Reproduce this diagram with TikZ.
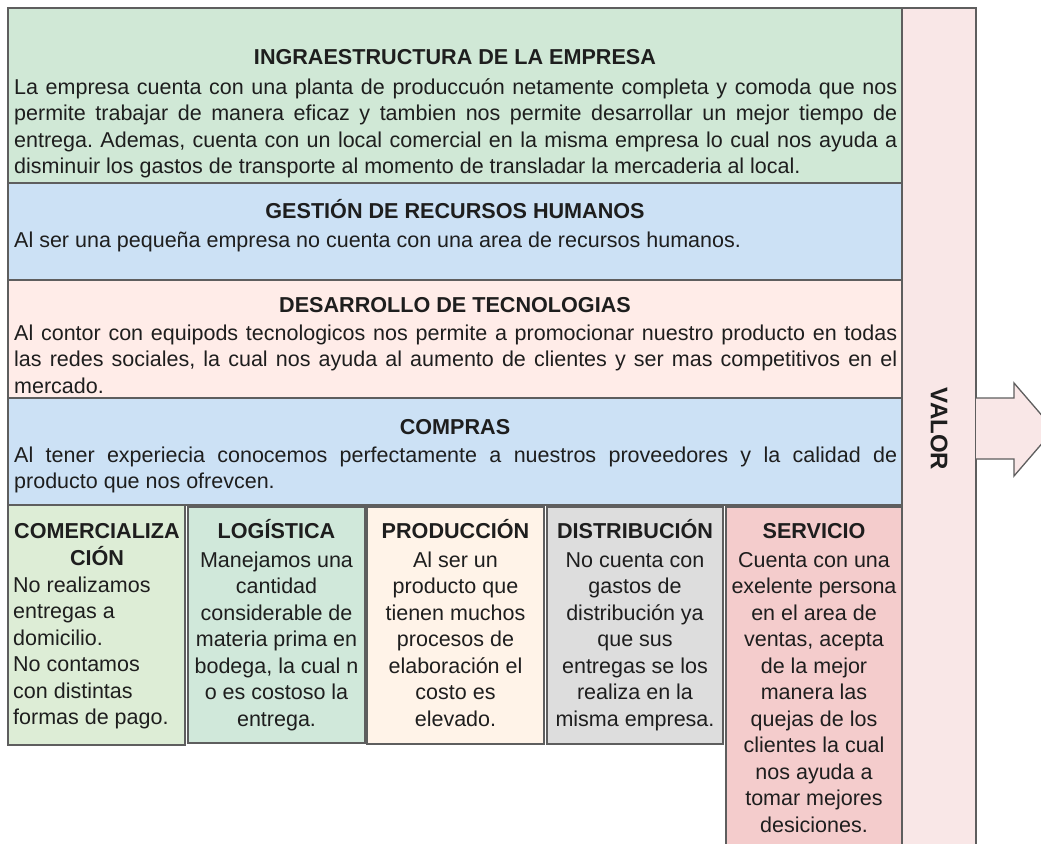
\documentclass[tikz,border=0pt]{standalone}
\usepackage{fontspec}
\setmainfont{Liberation Sans}
\definecolor{cgreen}{HTML}{D0E8D6}
\definecolor{cblue}{HTML}{CCE1F5}
\definecolor{cpink}{HTML}{FFECE8}
\definecolor{cvalor}{HTML}{F9E7E7}
\definecolor{ccom}{HTML}{DDEDD6}
\definecolor{clog}{HTML}{D0E8DA}
\definecolor{cprod}{HTML}{FFF3E8}
\definecolor{cdist}{HTML}{DDDDDD}
\definecolor{cserv}{HTML}{F4CCCC}
\definecolor{cborder}{HTML}{5E5E5E}
\definecolor{ctext}{HTML}{1E1E1E}
\newcommand\jl[1]{\makebox[883pt][s]{#1}}
\newcommand\tl[1]{\begin{tabular}[t]{@{}l@{}}#1\end{tabular}}
\newcommand\tc[1]{\begin{tabular}[t]{@{}c@{}}#1\end{tabular}}
\frenchspacing
\begin{document}
\begin{tikzpicture}[x=1pt,y=-1pt,
  box/.style={draw=cborder, line width=1.3pt, inner sep=0pt, outer sep=0pt, anchor=north west},
  hd/.style={font=\fontsize{21.6}{26.5}\selectfont\bfseries, text=ctext, inner sep=0pt, anchor=base},
  bd/.style={font=\fontsize{21.5}{26.5}\selectfont, text=ctext, inner sep=0pt, anchor=base}]
\useasboundingbox (0,0) rectangle (1041,843);
\clip (0,0) rectangle (1041,843);
\fill[white] (0,0) rectangle (1041,843);
% support rows
\node[box, fill=cgreen, minimum width=894pt, minimum height=175pt] (infra) at (8,8) {};
\node[box, fill=cblue, minimum width=894pt, minimum height=97pt] (rrhh) at (8,183) {};
\node[box, fill=cpink, minimum width=894pt, minimum height=118pt] (tec) at (8,280) {};
\node[box, fill=cblue, minimum width=894pt, minimum height=107pt] (comp) at (8,398) {};
% valor bar
\node[box, fill=cvalor, minimum width=74pt, minimum height=850pt] (valor) at (902,8) {};
\node[hd, font=\fontsize{24}{26}\selectfont\bfseries, rotate=-90, anchor=center] (valort) at (939,429) {VALOR};
\draw[draw=cborder, line width=1.3pt, fill=cvalor, line join=miter]
  (976,398) -- (1014,398) -- (1014,383) -- (1054,429.5) -- (1014,476) -- (1014,459) -- (976,459);
% primary boxes
\node[box, fill=ccom, minimum width=177pt, minimum height=240pt] (b1) at (8,505) {};
\node[box, fill=clog, minimum width=177pt, minimum height=236pt] (b2) at (188,507) {};
\node[box, fill=cprod, minimum width=177pt, minimum height=237pt] (b3) at (367,507) {};
\node[box, fill=cdist, minimum width=176pt, minimum height=237pt] (b4) at (547,507) {};
\node[box, fill=cserv, minimum width=176pt, minimum height=345pt] (b5) at (726,507) {};
% texts rows
\node[hd] (t1h) at (455,65) {INGRAESTRUCTURA DE LA EMPRESA};
\node[bd, anchor=base west] (t1b) at (14,94) {\tl{\jl{La empresa cuenta con una planta de produccuón netamente completa y comoda que nos}\\
\jl{permite trabajar de manera eficaz y tambien nos permite desarrollar un mejor tiempo de}\\
\jl{entrega. Ademas, cuenta con un local comercial en la misma empresa lo cual nos ayuda a}\\
disminuir los gastos de transporte al momento de transladar la mercaderia al local.}};
\node[hd] (t2h) at (455,218) {GESTIÓN DE RECURSOS HUMANOS};
\node[bd, anchor=base west] (t2b) at (14,247) {Al ser una pequeña empresa no cuenta con una area de recursos humanos.};
\node[hd] (t3h) at (455,312) {DESARROLLO DE TECNOLOGIAS};
\node[bd, anchor=base west] (t3b) at (14,340) {\tl{\jl{Al contor con equipods tecnologicos nos permite a promocionar nuestro producto en todas}\\
\jl{las redes sociales, la cual nos ayuda al aumento de clientes y ser mas competitivos en el}\\
mercado.}};
\node[hd] (t4h) at (455,434) {COMPRAS};
\node[bd, anchor=base west] (t4b) at (14,462) {\tl{\jl{Al tener experiecia conocemos perfectamente a nuestros proveedores y la calidad de}\\
producto que nos ofrevcen.}};
% texts boxes
\node[hd] (h1) at (97,538) {\tc{COMERCIALIZA\\CIÓN}};
\node[bd, anchor=base west] (p1) at (13,592) {\tl{No realizamos\\entregas a\\domicilio.\\No contamos\\con distintas\\formas de pago.}};
\node[hd] (h2) at (276.5,538) {LOGÍSTICA};
\node[bd] (p2) at (276.5,567) {\tc{Manejamos una\\cantidad\\considerable de\\materia prima en\\bodega, la cual n\\o es costoso la\\entrega.}};
\node[hd] (h3) at (455.5,538) {PRODUCCIÓN};
\node[bd] (p3) at (455.5,567) {\tc{Al ser un\\producto que\\tienen muchos\\procesos de\\elaboración el\\costo es\\elevado.}};
\node[hd] (h4) at (635,538) {DISTRIBUCIÓN};
\node[bd] (p4) at (635,567) {\tc{No cuenta con\\gastos de\\distribución ya\\que sus\\entregas se los\\realiza en la\\misma empresa.}};
\node[hd] (h5) at (814,538) {SERVICIO};
\node[bd] (p5) at (814,567) {\tc{Cuenta con una\\exelente persona\\en el area de\\ventas, acepta\\de la mejor\\manera las\\quejas de los\\clientes la cual\\nos ayuda a\\tomar mejores\\desiciones.}};
\end{tikzpicture}
\end{document}
